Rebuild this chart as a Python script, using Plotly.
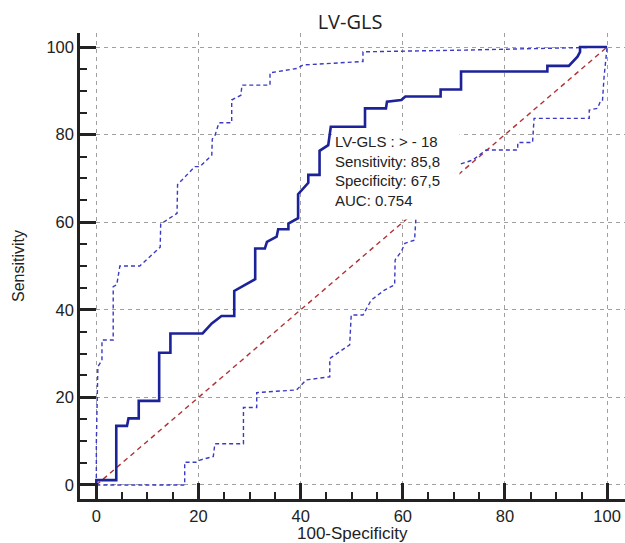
import plotly.graph_objects as go

# ROC curve (100-Specificity, Sensitivity)
roc_x = [0, 0, 3.9, 3.9, 6.0, 6.3, 8.3, 8.3, 12.3, 12.3, 14.5, 14.5, 20.8, 22.6, 24.5, 27.0, 27.0,
         31.1, 31.1, 33.0, 33.4, 35.3, 35.6, 37.6, 37.6, 39.5, 39.5, 41.5, 41.5, 43.7, 43.7, 45.4,
         45.9, 52.6, 52.6, 56.7, 56.9, 59.7, 60.5, 67.4, 67.4, 71.4, 71.4, 88.3, 88.3, 92.5, 94.2,
         94.7, 94.7, 100]
roc_y = [0, 1.1, 1.1, 13.5, 13.5, 15.2, 15.2, 19.2, 19.2, 30.2, 30.2, 34.6, 34.6, 36.9, 38.6, 38.6, 44.3,
         47.0, 54.0, 54.0, 55.5, 56.7, 58.4, 58.4, 59.7, 60.9, 66.4, 69.0, 70.8, 70.8, 76.3, 77.6,
         81.8, 81.8, 86.0, 86.0, 87.5, 87.9, 88.7, 88.7, 90.3, 90.3, 94.4, 94.4, 95.7, 95.7, 97.8,
         98.9, 100, 100]

# Upper confidence bound
up_x = [0, 0, 0.3, 1.1, 1.1, 3.3, 3.3, 4.0, 4.6, 8.5, 12.5, 12.6, 15.8, 15.9, 19.3, 20.3, 22.6,
        22.7, 23.2, 24.0, 26.5, 26.5, 28.3, 28.5, 34.0, 34.0, 39.3, 40.5, 52.2, 52.2, 72.2, 100]
up_y = [0, 9.6, 27.0, 28.5, 33.1, 33.1, 45.3, 45.7, 50.0, 50.0, 54.3, 59.6, 62.0, 68.6, 72.7, 72.7,
        75.3, 79.0, 79.7, 82.7, 82.7, 87.9, 89.0, 91.3, 91.3, 94.1, 95.1, 95.9, 96.7, 98.9, 99.3, 100]

# Lower confidence bound
lo_x = [0, 17.3, 17.3, 19.7, 20.3, 22.9, 23.2, 28.8, 28.8, 31.4, 31.4, 39.2, 41.1, 45.7, 45.7,
        49.6, 49.9, 52.2, 53.8, 56.4, 58.4, 58.5, 59.7, 60.4, 62.3, 62.6, 65.0, 68.0, 70.8, 73.7,
        76.3, 82.5, 82.5, 85.4, 85.7, 96.5, 96.5, 98.1, 98.8, 99.1, 99.4, 99.9, 100]
lo_y = [0, 0, 5.2, 5.2, 5.7, 6.5, 9.4, 9.4, 17.7, 17.7, 21.1, 21.7, 24.0, 24.7, 28.9,
        32.0, 38.8, 38.8, 42.2, 44.5, 45.7, 51.4, 53.3, 55.2, 55.9, 61.6, 65.0, 70.0, 73.1, 74.2,
        76.5, 76.5, 78.2, 78.2, 83.7, 83.7, 85.6, 86.0, 87.9, 87.9, 93.2, 98.9, 100]

# Reference (chance) line
diag_x = [0, 100]
diag_y = [0, 100]

tick_vals = [0, 20, 40, 60, 80, 100]
title_text = "LV-GLS"
x_title = "100-Specificity"
y_title = "Sensitivity"
info_lines = ["LV-GLS : > - 18", "Sensitivity: 85,8", "Specificity: 67,5", "AUC: 0.754"]
info_pos = (46.2, 81.0)

W, H = 625, 543
ML, MR, MT, MB = 80, 0, 33, 44
PW, PH = W - ML - MR, H - MT - MB

fig = go.Figure()
fig.add_trace(go.Scatter(x=diag_x, y=diag_y, mode="lines",
                         line=dict(color="#b03232", width=1.4, dash="5px,4px"), hoverinfo="skip"))
fig.add_trace(go.Scatter(x=up_x, y=up_y, mode="lines",
                         line=dict(color="#3a3ac4", width=1.4, dash="4px,3px"), hoverinfo="skip"))
fig.add_trace(go.Scatter(x=lo_x, y=lo_y, mode="lines",
                         line=dict(color="#3a3ac4", width=1.4, dash="4px,3px"), hoverinfo="skip"))
fig.add_trace(go.Scatter(x=roc_x, y=roc_y, mode="lines",
                         line=dict(color="#1c2298", width=2.6), hoverinfo="skip"))

axis_common = dict(
    tickmode="array", tickvals=tick_vals, ticks="inside", ticklen=16, tickwidth=2.5,
    tickcolor="#222", showline=True, linecolor="#222", linewidth=2.5,
    showgrid=True, gridcolor="#a0a0a0", gridwidth=1, griddash="4px,4px",
    zeroline=False, tickfont=dict(family="Liberation Sans", size=16.5, color="#222"),
    minor=dict(dtick=5, tick0=0, ticks="inside", ticklen=7, tickwidth=1.5, tickcolor="#222", showgrid=False),
    fixedrange=True, automargin=False,
)
fig.update_xaxes(range=[-3.2, 103.5], **axis_common)
fig.update_yaxes(range=[-3.2, 103.2], **axis_common)

fig.add_annotation(
    x=info_pos[0], y=info_pos[1], xref="x", yref="y", xanchor="left", yanchor="top",
    text="<br>".join(info_lines), showarrow=False, align="left", valign="top",
    bgcolor="white", width=122, height=84, borderpad=2,
    font=dict(family="Liberation Sans", size=15, color="#222"),
)
fig.add_annotation(
    x=0.5, y=-(533 - (H - MB)) / PH, xref="paper", yref="paper", xanchor="center", yanchor="middle",
    text=x_title, showarrow=False, font=dict(family="Liberation Sans", size=17, color="#222"),
)
fig.add_annotation(
    x=(18 - ML) / PW, y=0.5, xref="paper", yref="paper", showarrow=False,
    text=y_title, textangle=-90, font=dict(family="Liberation Sans", size=16, color="#222"),
    xanchor="center", yanchor="middle",
)

fig.update_layout(
    width=W, height=H,
    margin=dict(l=ML, r=MR, t=MT, b=MB, autoexpand=False),
    paper_bgcolor="white", plot_bgcolor="white",
    showlegend=False,
    title=dict(text=title_text, x=350 / W, xanchor="center", y=1 - 22 / H, yanchor="middle",
               font=dict(family="Open Sans", size=20, color="#222")),
)

fig.write_html("out.html", config={"displayModeBar": False},
               post_script="document.body.style.margin='0';document.body.style.overflow='hidden';")
